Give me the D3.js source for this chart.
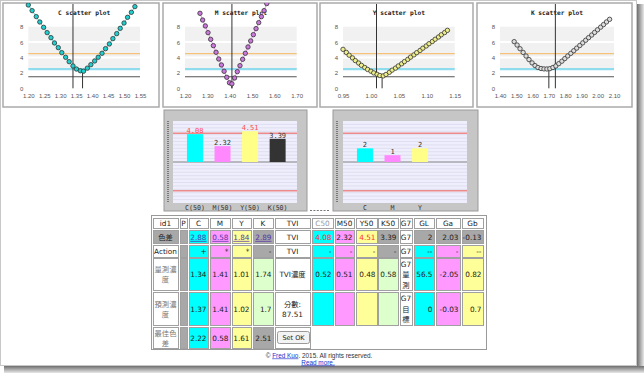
<!DOCTYPE html>
<html>
<head>
<meta charset="utf-8">
<script src="https://cdn.jsdelivr.net/npm/d3@7"></script>
<style>
  body { margin: 0; background: #fff; }
  svg { display: block; }
</style>
</head>
<body>
<script>
// ---- data ----
var channels = ["C", "M", "Y", "K"];

// delta E vs density curves for the four scatter plots
var cDensity = [1.200,1.212,1.225,1.236,1.248,1.259,1.271,1.282,1.294,1.305,1.317,1.328,1.340,1.351,1.363,1.373,1.385,1.396,1.408,1.419,1.431,1.442,1.454,1.465,1.477,1.488,1.500,1.511,1.523,1.534];
var cDeltaE  = [10.82,10.09,9.31,8.61,7.92,7.23,6.58,5.89,5.28,4.63,4.03,3.46,2.90,2.50,2.28,2.22,2.62,3.07,3.55,4.03,4.55,5.15,5.76,6.45,7.10,7.79,8.48,9.22,9.87,10.61];

var mDensity = [1.267,1.279,1.291,1.303,1.315,1.327,1.339,1.351,1.363,1.375,1.387,1.399,1.410,1.422,1.434,1.446,1.458,1.470,1.482,1.494,1.506,1.518,1.530,1.542,1.554,1.566];
var mDeltaE  = [9.74,8.87,8.10,7.23,6.36,5.54,4.68,3.81,3.03,2.21,1.43,0.72,0.58,1.34,2.16,2.94,3.77,4.55,5.37,6.15,6.97,7.75,8.53,9.31,10.09,11.0];

var yDensity = [0.950,0.956,0.961,0.967,0.972,0.978,0.983,0.989,0.994,1.000,1.005,1.011,1.016,1.022,1.027,1.033,1.038,1.044,1.049,1.055,1.060,1.066,1.071,1.077,1.082,1.088,1.093,1.099,1.104,1.110,1.115,1.121,1.126,1.132,1.137];
var yDeltaE  = [5.06,4.66,4.30,3.95,3.60,3.28,2.98,2.70,2.45,2.22,2.00,1.82,1.66,1.61,1.80,2.08,2.36,2.62,2.90,3.18,3.47,3.76,4.05,4.34,4.63,4.92,5.21,5.50,5.79,6.08,6.37,6.66,6.95,7.24,7.53];

var kDensity = [1.487,1.505,1.523,1.542,1.560,1.578,1.597,1.615,1.633,1.652,1.670,1.688,1.706,1.725,1.743,1.761,1.780,1.798,1.816,1.835,1.853,1.871,1.890,1.908,1.926,1.944,1.963,1.981,1.999,2.018,2.036,2.054,2.073];
var kDeltaE  = [6.06,5.62,5.14,4.66,4.19,3.73,3.30,2.95,2.70,2.57,2.52,2.51,2.55,2.70,2.90,3.20,3.52,3.86,4.20,4.54,4.88,5.22,5.56,5.90,6.24,6.58,6.92,7.26,7.60,7.94,8.28,8.62,8.96];

var cTicks = [1.20,1.25,1.30,1.35,1.40,1.45,1.50,1.55];
var mTicks = [1.20,1.30,1.40,1.50,1.60,1.70];
var yTicks = [0.95,1.00,1.05,1.10,1.15];
var kTicks = [1.40,1.50,1.60,1.70,1.80,1.90,2.00,2.10];
var deTicks = [0,2,4,6,8];
var refLevels = [4.5, 2.5, 1.5];

var measuredDensity  = [1.34, 1.41, 1.01, 1.74];
var predictedDensity = [1.37, 1.41, 1.02, 1.70];
var bestDeltaE       = [2.22, 0.58, 1.61, 2.51];

// the two bar charts
var tviLabels = ["C(50)", "M(50)", "Y(50)", "K(50)"];
var tviValues = [4.08, 2.32, 4.51, 3.39];
var g7Labels = ["C", "M", "Y"];
var g7Values = [2, 1, 2];
var barLimit = 4.2;
var warnLevel = 4;

// the table
var headRow      = ["id1","P","C","M","Y","K","TVI","C50","M50","Y50","K50","G7","GL","Ga","Gb"];
var deltaERow    = ["色差","","2.88","0.58","1.84","2.89","TVI","4.08","2.32","4.51","3.39","G7","2","2.03","-0.13"];
var actionRow    = ["Action","","+","*","*","-","TVI","-","-","-","-","G7","--","-","--"];
var measuredRow  = ["量測濃\n度","","1.34","1.41","1.01","1.74","TVI濃度","0.52","0.51","0.48","0.58","G7\n量\n測","56.5","-2.05","0.82"];
var predictedRow = ["預測濃\n度","","1.37","1.41","1.02","1.7","分數:\n87.51","","","","","G7\n目\n標","0","-0.03","0.7"];
var bestRow      = ["最佳色\n差","","2.22","0.58","1.61","2.51","Set OK"];

// ---- page ----
var W = 644, H = 373;
var svg = d3.select("body").append("svg")
    .attr("width", W)
    .attr("height", H);

// screenshot frame + shadow
var defs = svg.append("defs");
var gr = defs.append("linearGradient").attr("id", "shR");
gr.append("stop").attr("offset", "0%").attr("stop-color", "#6f6f6f");
gr.append("stop").attr("offset", "100%").attr("stop-color", "#e8e8e8");
var gb = defs.append("linearGradient").attr("id", "shB").attr("x2", 0).attr("y2", 1);
gb.append("stop").attr("offset", "0%").attr("stop-color", "#6f6f6f");
gb.append("stop").attr("offset", "100%").attr("stop-color", "#e8e8e8");
svg.append("rect").attr("x", 637).attr("y", 4).attr("width", 7).attr("height", 369).attr("fill", "url(#shR)");
svg.append("rect").attr("x", 4).attr("y", 366).attr("width", 640).attr("height", 7).attr("fill", "url(#shB)");
svg.append("rect").attr("x", 0.5).attr("y", 0.5).attr("width", 636).attr("height", 365)
    .attr("fill", "#fff").attr("stroke", "#c8c8c8");

// ---- scatter plots ----
var panelX = [3, 163, 320, 477], panelW = [156, 154, 153, 155];
var plotX = [28.3, 185, 343, 500], plotW = [111.7, 111.7, 111.7, 114];
var panelTop = 3, panelBottom = 107;
var series = [
  {dens: cDensity, de: cDeltaE, ticks: cTicks, fill: "#1ecfcf", line: "#4fd8d8"},
  {dens: mDensity, de: mDeltaE, ticks: mTicks, fill: "#cc77dd", line: "#e49ae8"},
  {dens: yDensity, de: yDeltaE, ticks: yTicks, fill: "#eeee8c", line: "#d8d890"},
  {dens: kDensity, de: kDeltaE, ticks: kTicks, fill: "#dddddd", line: "#bbbbbb"}
];
var yDE = d3.scaleLinear().domain([0, 8]).range([88.3, 26.7]);

series.forEach(function(s, i) {
  var g = svg.append("g");
  var clipId = "clip" + i;
  defs.append("clipPath").attr("id", clipId).append("rect")
      .attr("x", panelX[i]).attr("y", panelTop)
      .attr("width", panelW[i]).attr("height", panelBottom - panelTop);

  g.append("rect")
      .attr("x", panelX[i]).attr("y", panelTop)
      .attr("width", panelW[i]).attr("height", panelBottom - panelTop)
      .attr("fill", "#fff").attr("stroke", "#aaa").attr("stroke-width", 1.5);

  var x = d3.scaleLinear()
      .domain([s.ticks[0], s.ticks[s.ticks.length - 1]])
      .range([plotX[i], plotX[i] + plotW[i]]);

  // plot background bands
  g.append("rect")
      .attr("x", plotX[i]).attr("y", yDE(8))
      .attr("width", plotW[i]).attr("height", yDE(2.5) - yDE(8))
      .attr("fill", "#f1f1f1");
  g.selectAll(".grid")
      .data([4, 6])
      .enter().append("line")
      .attr("x1", plotX[i]).attr("x2", plotX[i] + plotW[i])
      .attr("y1", d => yDE(d)).attr("y2", d => yDE(d))
      .attr("stroke", "#fff").attr("stroke-width", 2);

  // reference levels
  var refColors = ["#f5c27c", "#8fdcee", "#555"];
  var refWidths = [1.2, 2.2, 1.2];
  g.selectAll(".ref")
      .data(refLevels)
      .enter().append("line")
      .attr("x1", plotX[i]).attr("x2", plotX[i] + plotW[i])
      .attr("y1", d => yDE(d)).attr("y2", d => yDE(d))
      .attr("stroke", (d, j) => refColors[j])
      .attr("stroke-width", (d, j) => refWidths[j]);

  // axes
  var xa = g.append("g")
      .attr("transform", "translate(0," + yDE(0) + ")")
      .call(d3.axisBottom(x).tickValues(s.ticks).tickSize(0).tickPadding(5.5).tickFormat(d3.format(".2f")));
  xa.select(".domain").remove();
  var ya = g.append("g")
      .attr("transform", "translate(" + plotX[i] + ",0)")
      .call(d3.axisLeft(yDE).tickValues(deTicks).tickSize(0).tickPadding(5));
  ya.select(".domain").remove();
  g.selectAll(".tick text")
      .attr("font-family", "Liberation Sans, Arial, sans-serif")
      .attr("font-size", 6)
      .attr("fill", "#555");

  // title
  g.append("text")
      .attr("x", plotX[i] + plotW[i] / 2).attr("y", 14.5)
      .attr("text-anchor", "middle")
      .attr("font-family", "DejaVu Sans Mono, monospace")
      .attr("font-weight", "bold")
      .attr("font-size", 6.2)
      .attr("fill", "#222")
      .text(channels[i] + " scatter plot");

  var pts = g.append("g").attr("clip-path", "url(#" + clipId + ")");

  // measured density (long) and predicted density (short)
  pts.append("line")
      .attr("x1", x(measuredDensity[i])).attr("x2", x(measuredDensity[i]))
      .attr("y1", panelTop + 1).attr("y2", yDE(0))
      .attr("stroke", "#333").attr("stroke-width", 1);
  pts.append("line")
      .attr("x1", x(predictedDensity[i])).attr("x2", x(predictedDensity[i]))
      .attr("y1", yDE(bestDeltaE[i])).attr("y2", yDE(0))
      .attr("stroke", "#333").attr("stroke-width", 1);

  var data = s.dens.map((d, j) => ({d: d, e: s.de[j]}));
  pts.append("path")
      .datum(data)
      .attr("fill", "none")
      .attr("stroke", s.line)
      .attr("stroke-width", 1)
      .attr("d", d3.line().x(d => x(d.d)).y(d => yDE(d.e)));
  pts.selectAll(".dot")
      .data(data)
      .enter().append("circle")
      .attr("cx", d => x(d.d))
      .attr("cy", d => yDE(d.e))
      .attr("r", 2.2)
      .attr("fill", s.fill)
      .attr("stroke", "#333")
      .attr("stroke-width", 0.8);
});

// ---- bar charts ----
var barColors = ["#00ffff", "#ff88ff", "#ffff88", "#333333"];
var yBar = d3.scaleLinear().domain([-6, 6]).range([203, 121]);
var boxes = [
  {x: 164, w: 143, plotX: 173, axisX: 168, labels: tviLabels, values: tviValues},
  {x: 333, w: 145, plotX: 343, axisX: 337, labels: g7Labels, values: g7Values}
];

boxes.forEach(function(b) {
  var g = svg.append("g");
  g.append("rect")
      .attr("x", b.x).attr("y", 110).attr("width", b.w).attr("height", 101)
      .attr("fill", "#c6c6c6").attr("stroke", "#9a9a9a");
  g.append("rect")
      .attr("x", b.plotX).attr("y", yBar(6)).attr("width", 124).attr("height", yBar(-6) - yBar(6))
      .attr("fill", "#eeeefc");
  g.selectAll(".stripe")
      .data(d3.range(-5.5, 6, 0.5))
      .enter().append("line")
      .attr("x1", b.plotX).attr("x2", b.plotX + 124)
      .attr("y1", d => yBar(d)).attr("y2", d => yBar(d))
      .attr("stroke", "#dadaee").attr("stroke-width", 0.8);
  g.selectAll(".limit")
      .data([barLimit, -barLimit])
      .enter().append("line")
      .attr("x1", b.plotX).attr("x2", b.plotX + 124)
      .attr("y1", d => yBar(d)).attr("y2", d => yBar(d))
      .attr("stroke", "#ee8a8a").attr("stroke-width", 1.5);
  g.append("line")
      .attr("x1", b.plotX).attr("x2", b.plotX + 124)
      .attr("y1", yBar(0)).attr("y2", yBar(0))
      .attr("stroke", "#888").attr("stroke-width", 1);
  g.append("line")
      .attr("x1", b.axisX).attr("x2", b.axisX)
      .attr("y1", yBar(6)).attr("y2", yBar(-6))
      .attr("stroke", "#666").attr("stroke-width", 1.6)
      .attr("stroke-dasharray", "1,1");

  var xb = d3.scaleBand()
      .domain(d3.range(4))
      .range([b.plotX + 1.3, b.plotX + 125.3])
      .paddingInner(0.42)
      .paddingOuter(0.46);

  g.selectAll(".bar")
      .data(b.values)
      .enter().append("rect")
      .attr("x", (d, j) => xb(j))
      .attr("width", xb.bandwidth())
      .attr("y", d => yBar(d))
      .attr("height", d => yBar(0) - yBar(d))
      .attr("fill", (d, j) => barColors[j]);

  g.selectAll(".val")
      .data(b.values)
      .enter().append("text")
      .attr("x", (d, j) => xb(j) + xb.bandwidth() / 2)
      .attr("y", d => yBar(d) - 1.3)
      .attr("text-anchor", "middle")
      .attr("font-family", "DejaVu Sans Mono, monospace")
      .attr("font-size", 7)
      .attr("fill", d => d > warnLevel ? "#ff4b4b" : "#333")
      .text(d => d);

  g.selectAll(".lab")
      .data(b.labels)
      .enter().append("text")
      .attr("x", (d, j) => xb(j) + xb.bandwidth() / 2)
      .attr("y", 210.3)
      .attr("text-anchor", "middle")
      .attr("font-family", "DejaVu Sans Mono, monospace")
      .attr("font-size", 6.6)
      .attr("fill", "#333")
      .text(d => d);
});

svg.append("line")
    .attr("x1", 310).attr("x2", 330).attr("y1", 210.5).attr("y2", 210.5)
    .attr("stroke", "#777").attr("stroke-dasharray", "2,1.4");

// ---- table ----
var colX = [[153,178],[180,187],[189,208],[210,230],[232,251],[253,273],[275,310],[312,333],[335,354],[356,377],[378,398],[400,412],[414,434],[436,460],[462,483]];
var rowY = [[218,228],[230,243],[245,257],[258,290],[292,325],[327,348]];
var rows = [headRow, deltaERow, actionRow, measuredRow, predictedRow, bestRow];

var CY = "#00ffff", PK = "#ff99ff", YL = "#ffff99", GR = "#a8a8a8", GN = "#ddffcc", WH = "#ffffff";
function cellFill(r, c) {
  if (r === 0) return WH;
  if (c === 0) return r === 1 ? GR : WH;
  if (c === 1) return GR;
  if (c === 6 || c === 11) return WH;
  if (c === 2 || c === 7 || c === 12) return r === 1 && c === 12 ? GR : CY;
  if (c === 3 || c === 8 || c === 13) return r === 1 && c === 13 ? GR : PK;
  if (c === 4 || c === 9 || c === 14) return r === 1 && c === 14 ? GR : YL;
  if (c === 5 || c === 10) return (r === 3 || r === 4) ? GN : GR;
  return WH;
}

var tg = svg.append("g");
tg.append("rect")
    .attr("x", 151.5).attr("y", 215.5).attr("width", 335).attr("height", 134)
    .attr("fill", "#fff").attr("stroke", "#999");

var cells = [];
rows.forEach(function(row, r) {
  row.forEach(function(v, c) { cells.push({r: r, c: c, v: v}); });
});

tg.selectAll(".cell")
    .data(cells)
    .enter().append("rect")
    .attr("x", d => colX[d.c][0] + 0.5)
    .attr("y", d => rowY[d.r][0] + 0.5)
    .attr("width", d => colX[d.c][1] - colX[d.c][0])
    .attr("height", d => rowY[d.r][1] - rowY[d.r][0])
    .attr("fill", d => cellFill(d.r, d.c))
    .attr("stroke", "#a0a0a0")
    .attr("stroke-width", 1);

function textColor(d) {
  if (d.r === 1 && d.c >= 2 && d.c <= 5) return "#5533aa";
  if (d.r === 1 && (d.c === 7 || d.c === 9)) return "#ff3030";
  if (d.r === 0 && d.c === 7) return "#999";
  if (d.c === 0 && d.r >= 3) return "#777";
  return "#222";
}

var centered = [0, 1, 6, 11];
cells.filter(d => d.v !== "" && d.v !== "Set OK").forEach(function(d) {
  var lines = d.v.split("\n");
  var mid = d.r === 0 || centered.indexOf(d.c) >= 0;
  var tx = mid ? (colX[d.c][0] + colX[d.c][1]) / 2 : colX[d.c][1] - 1.5;
  var lh = lines.length > 2 ? 10.5 : 10;
  var cy = (rowY[d.r][0] + rowY[d.r][1]) / 2 + 1;
  var t = tg.append("text")
      .attr("x", tx)
      .attr("text-anchor", mid ? "middle" : "end")
      .attr("font-family", "DejaVu Sans, 'Noto Sans CJK TC', sans-serif")
      .attr("font-size", 7.3)
      .attr("fill", textColor(d))
      .attr("text-decoration", d.r === 1 && d.c >= 2 && d.c <= 5 ? "underline" : null);
  lines.forEach(function(line, k) {
    t.append("tspan")
        .attr("x", tx)
        .attr("y", cy + 2.4 + (k - (lines.length - 1) / 2) * lh)
        .text(line);
  });
});

// Set OK button
var btn = cells.find(d => d.v === "Set OK");
tg.append("rect")
    .attr("x", colX[btn.c][0] + 2.5).attr("y", rowY[btn.r][0] + 4.5)
    .attr("width", 32).attr("height", 12).attr("rx", 2)
    .attr("fill", "#f3f3f3").attr("stroke", "#9a9a9a");
tg.append("text")
    .attr("x", colX[btn.c][0] + 18.5).attr("y", rowY[btn.r][0] + 13)
    .attr("text-anchor", "middle")
    .attr("font-family", "DejaVu Sans, sans-serif")
    .attr("font-size", 6.5)
    .attr("fill", "#222")
    .text(btn.v);

// footer
var foot = svg.append("text")
    .attr("x", 319).attr("y", 357.5)
    .attr("text-anchor", "middle")
    .attr("font-family", "Liberation Sans, Arial, sans-serif")
    .attr("font-size", 6.4)
    .attr("fill", "#333");
foot.append("tspan").text("© ");
foot.append("tspan").attr("fill", "#2233cc").attr("text-decoration", "underline").text("Fred Kuo");
foot.append("tspan").text(". 2015. All rights reserved.");
svg.append("text")
    .attr("x", 318).attr("y", 364.5)
    .attr("text-anchor", "middle")
    .attr("font-family", "Liberation Sans, Arial, sans-serif")
    .attr("font-size", 6.4)
    .attr("fill", "#2233cc")
    .attr("text-decoration", "underline")
    .text("Read more.");
</script>
</body>
</html>
